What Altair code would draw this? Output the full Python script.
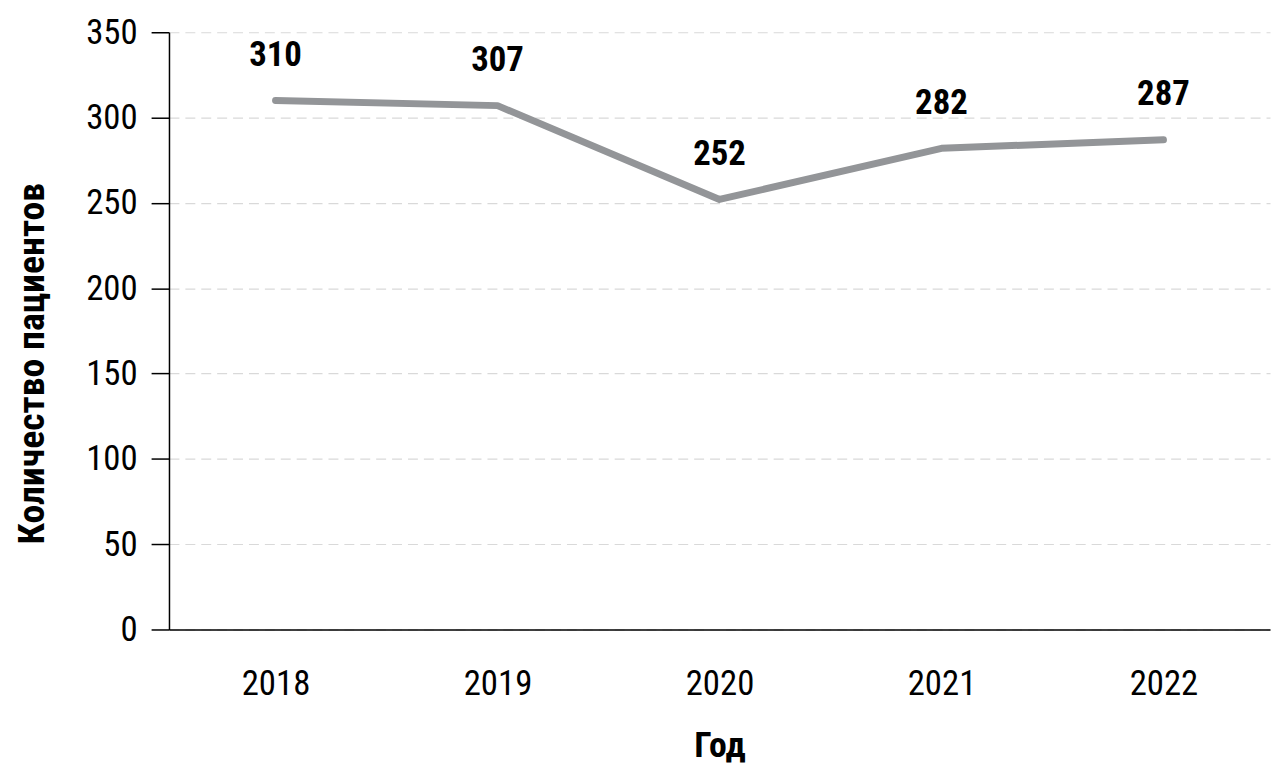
import altair as alt
import pandas as pd

years = ["2018", "2019", "2020", "2021", "2022"]
patients = [310, 307, 252, 282, 287]

df = pd.DataFrame({"year": years, "patients": patients})

FONT = "Roboto Condensed, DejaVu Sans Condensed, Liberation Sans Narrow, Roboto, sans-serif"

base = alt.Chart(df).encode(
    x=alt.X("year:O", sort=years,
            scale=alt.Scale(type="point", padding=0.48),
            axis=alt.Axis(title="Год", labelAngle=0, ticks=False, grid=False,
                          labelPadding=37, titlePadding=28, domainColor="black",
                          domainWidth=1.5, labelFontSize=35, titleFontSize=36,
                          labelColor="black", titleColor="black")),
    y=alt.Y("patients:Q", scale=alt.Scale(domain=[0, 350], nice=False),
            axis=alt.Axis(title="Количество пациентов", values=[0, 50, 100, 150, 200, 250, 300, 350],
                          tickSize=18, tickColor="black", tickWidth=1.5,
                          domainColor="black", domainWidth=1.5,
                          grid=True, gridDash=[10, 6], gridColor="#d9d9d9", gridWidth=1.2,
                          labelPadding=14, titlePadding=34, labelFontSize=35,
                          titleFontSize=38, titleY=333, labelColor="black", titleColor="black")),
)

line = base.mark_line(color="#939598", strokeWidth=7, strokeCap="round", strokeJoin="round")
labels = base.mark_text(dy=-28, baseline="bottom", fontSize=35, fontWeight="bold",
                        font=FONT, color="black").encode(text="patients:Q")

chart = (line + labels).properties(
    width=1108, height=601,
    autosize=alt.AutoSizeParams(type="none"),
    padding={"left": 162, "top": 22, "right": 2, "bottom": 140},
).configure_axis(
    labelFont=FONT, titleFont=FONT, titleFontWeight="bold", labelFontWeight="normal"
).configure_view(stroke=None)

chart.save("out.html", embed_options={"renderer": "svg", "actions": False})
